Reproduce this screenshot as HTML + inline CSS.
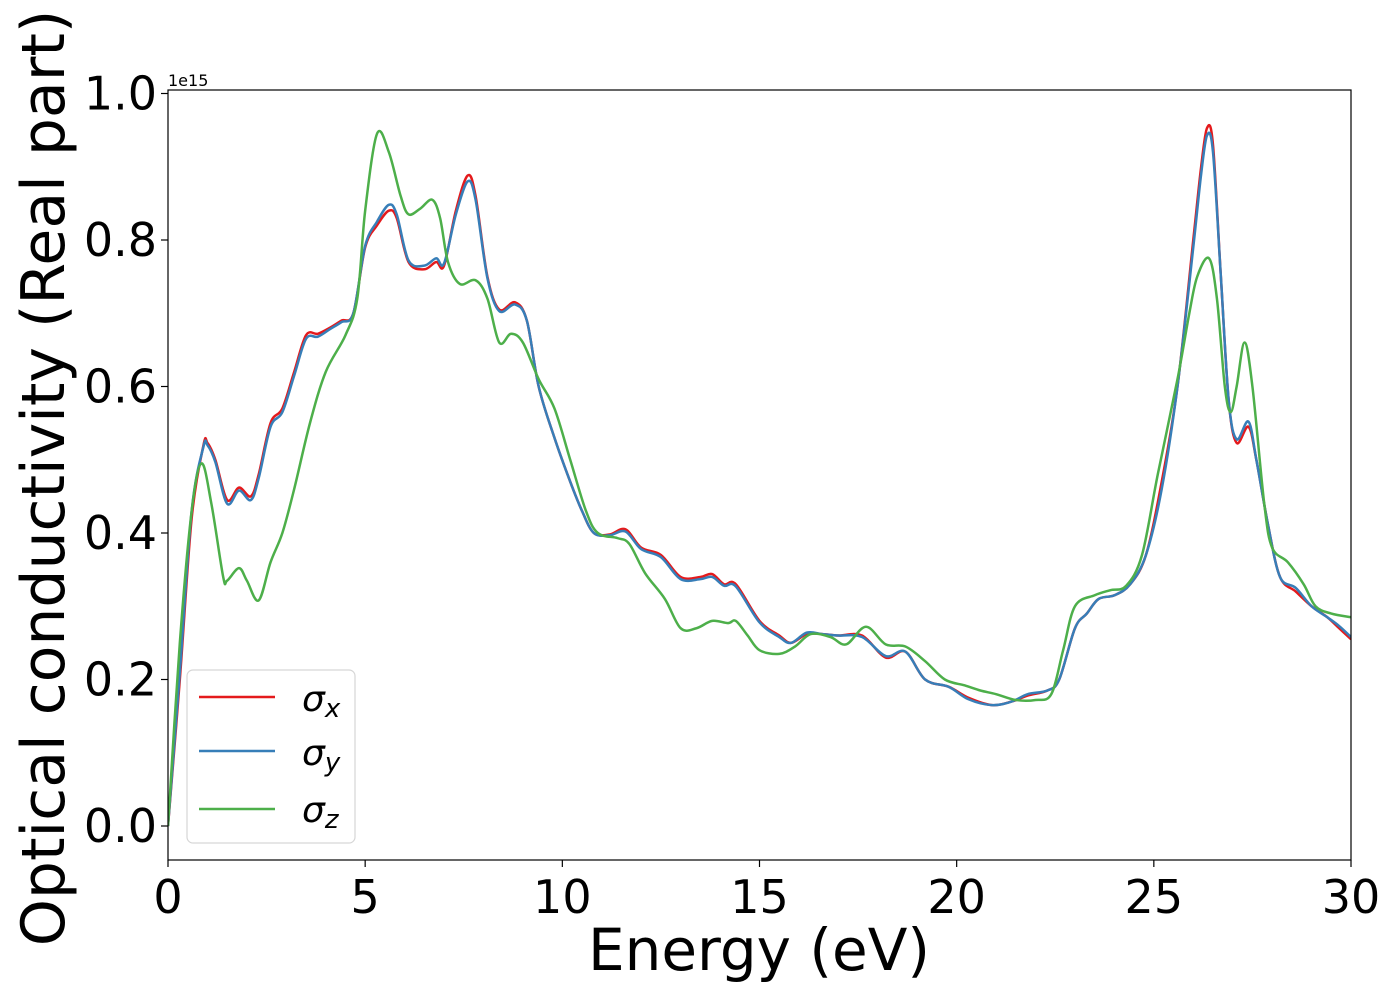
<!DOCTYPE html>
<html><head><meta charset="utf-8"><style>
body{margin:0;background:#fff;overflow:hidden;}
svg text{font-family:"DejaVu Sans","Liberation Sans",sans-serif;}
</style></head><body>
<svg id="chart" width="1400" height="1000" xmlns="http://www.w3.org/2000/svg" style="position:absolute;left:0;top:0">
<g id="plot"></g>
</svg>
<script>
const xs_x=[0,0.3,0.6,0.9,1.0,1.2,1.5,1.8,2.1,2.3,2.6,2.9,3.2,3.5,3.8,4.1,4.4,4.7,5.0,5.3,5.6,5.8,6.1,6.5,6.8,7.0,7.3,7.6,7.8,8.1,8.4,8.8,9.1,9.4,9.8,10.2,10.5,10.8,11.2,11.6,12.0,12.5,13.0,13.5,13.8,14.1,14.4,15.0,15.5,15.8,16.2,16.6,17.0,17.6,18.2,18.7,19.2,19.8,20.3,20.9,21.4,21.8,22.3,22.6,23.0,23.3,23.6,24.0,24.4,24.8,25.2,25.6,26.0,26.2,26.35,26.5,26.7,26.9,27.1,27.4,27.6,27.9,28.2,28.6,29.0,29.4,29.7,30];
const sigmaX=[0,0.2,0.42,0.52,0.523,0.5,0.445,0.462,0.45,0.48,0.55,0.57,0.62,0.67,0.672,0.68,0.69,0.70,0.79,0.82,0.84,0.83,0.77,0.76,0.77,0.765,0.84,0.888,0.86,0.75,0.705,0.715,0.69,0.6,0.53,0.47,0.43,0.40,0.398,0.405,0.38,0.37,0.34,0.34,0.344,0.33,0.33,0.28,0.26,0.25,0.262,0.262,0.26,0.26,0.23,0.238,0.2,0.19,0.175,0.165,0.17,0.178,0.185,0.20,0.27,0.29,0.31,0.315,0.33,0.37,0.47,0.6,0.8,0.9,0.953,0.93,0.75,0.58,0.523,0.545,0.5,0.41,0.34,0.32,0.3,0.285,0.27,0.255];
const sigmaY=[0,0.21,0.43,0.518,0.52,0.497,0.44,0.458,0.445,0.475,0.545,0.565,0.615,0.665,0.668,0.678,0.688,0.70,0.792,0.825,0.848,0.835,0.772,0.765,0.775,0.768,0.835,0.88,0.855,0.748,0.703,0.712,0.69,0.6,0.53,0.47,0.43,0.40,0.397,0.402,0.378,0.367,0.337,0.337,0.34,0.328,0.327,0.278,0.258,0.25,0.264,0.262,0.26,0.258,0.232,0.238,0.2,0.19,0.173,0.165,0.17,0.18,0.185,0.20,0.27,0.29,0.31,0.315,0.33,0.37,0.46,0.6,0.79,0.89,0.943,0.92,0.75,0.58,0.528,0.552,0.5,0.41,0.34,0.325,0.3,0.285,0.273,0.258];
const xs_z=[0,0.3,0.6,0.85,1.1,1.4,1.5,1.8,2.0,2.3,2.6,2.9,3.2,3.6,4.0,4.5,4.8,5.0,5.3,5.6,5.9,6.1,6.4,6.7,6.9,7.1,7.4,7.8,8.1,8.4,8.7,9.0,9.4,9.8,10.2,10.6,10.9,11.4,11.7,12.1,12.6,13.0,13.4,13.8,14.2,14.4,14.7,15.0,15.5,15.9,16.3,16.8,17.2,17.7,18.2,18.7,19.2,19.7,20.2,20.6,21.0,21.5,22.0,22.4,22.7,23.0,23.5,23.9,24.3,24.7,25.1,25.6,25.9,26.1,26.4,26.6,26.8,26.95,27.1,27.3,27.5,27.8,28.0,28.4,28.8,29.1,29.5,30];
const sigmaZ=[0,0.25,0.43,0.495,0.44,0.34,0.335,0.352,0.335,0.308,0.36,0.4,0.46,0.55,0.62,0.67,0.72,0.84,0.945,0.92,0.86,0.835,0.843,0.855,0.83,0.77,0.74,0.745,0.72,0.66,0.672,0.66,0.61,0.57,0.5,0.43,0.4,0.393,0.385,0.345,0.31,0.27,0.27,0.28,0.277,0.28,0.26,0.24,0.235,0.245,0.262,0.258,0.248,0.272,0.248,0.245,0.225,0.2,0.192,0.185,0.18,0.172,0.172,0.18,0.24,0.3,0.315,0.322,0.328,0.37,0.48,0.61,0.7,0.75,0.775,0.72,0.6,0.565,0.6,0.66,0.6,0.44,0.38,0.36,0.33,0.3,0.29,0.285];
const xTicks=[0,5,10,15,20,25,30];
const yTicks=[0.0,0.2,0.4,0.6,0.8,1.0];
const L=168,R=1351,T=90,B=860;
const X=v=>L+(v-0)/30*(R-L);
const Y=v=>826-v*732.5;
const NS="http://www.w3.org/2000/svg";
const svg=document.getElementById('chart');
function mk(tag,attrs,parent){const e=document.createElementNS(NS,tag);for(const k in attrs)e.setAttribute(k,attrs[k]);(parent||svg).appendChild(e);return e;}
function path(xs,ys){const p=xs.map((x,i)=>[X(x),Y(ys[i])]);let d='M'+p[0][0]+','+p[0][1];
for(let i=0;i<p.length-1;i++){const p0=p[i-1]||p[i],p1=p[i],p2=p[i+1],p3=p[i+2]||p2;
d+=' C'+(p1[0]+(p2[0]-p0[0])/6)+','+(p1[1]+(p2[1]-p0[1])/6)+' '+(p2[0]-(p3[0]-p1[0])/6)+','+(p2[1]-(p3[1]-p1[1])/6)+' '+p2[0]+','+p2[1];}return d;}
const plot=document.getElementById('plot');
const clip=mk('clipPath',{id:'cp'});mk('rect',{x:L,y:T,width:R-L,height:B-T},clip);
const series=[[xs_x,sigmaX,'#e41a1c','series-sigma-x'],[xs_x,sigmaY,'#377eb8','series-sigma-y'],[xs_z,sigmaZ,'#4daf4a','series-sigma-z']];
series.forEach(s=>{const e=mk('path',{d:path(s[0],s[1]),fill:'none',stroke:s[2],'stroke-width':2.5,'clip-path':'url(#cp)'},plot);

});
const fr=mk('rect',{x:L,y:T,width:R-L,height:B-T,fill:'none',stroke:'#000','stroke-width':1.2});


xTicks.forEach(t=>{mk('line',{x1:X(t),x2:X(t),y1:B,y2:B+7,stroke:'#000','stroke-width':1.2});
const tx=mk('text',{x:X(t),y:B+53,'font-size':46,'text-anchor':'middle'});tx.textContent=t;

});
yTicks.forEach(t=>{mk('line',{x1:L-7,x2:L,y1:Y(t),y2:Y(t),stroke:'#000','stroke-width':1.2});
const tx=mk('text',{x:L-11,y:Y(t)+16,'font-size':46,'text-anchor':'end'});tx.textContent=t.toFixed(1);

});
</script>
<svg width="1400" height="1000" xmlns="http://www.w3.org/2000/svg" style="position:absolute;left:0;top:0;pointer-events:none">
<text x="168" y="86" font-size="16" font-family="DejaVu Sans,Liberation Sans,sans-serif">1e15</text>
<text x="759" y="970" font-size="58" text-anchor="middle" font-family="DejaVu Sans,Liberation Sans,sans-serif">Energy (eV)</text>
<text transform="translate(64,478) rotate(-90)" font-size="60" text-anchor="middle" font-family="DejaVu Sans,Liberation Sans,sans-serif">Optical conductivity (Real part)</text>
<g>
<rect x="187" y="670" width="168" height="173" rx="6" fill="#fff" fill-opacity="0.85" stroke="#d6d6d6" stroke-width="1.2"/>
<line x1="199" x2="275" y1="697" y2="697" stroke="#e41a1c" stroke-width="2.5"/>
<line x1="199" x2="275" y1="751" y2="751" stroke="#377eb8" stroke-width="2.5"/>
<line x1="199" x2="275" y1="809" y2="809" stroke="#4daf4a" stroke-width="2.5"/>
<text x="302" y="711" font-size="36" font-style="italic" font-family="DejaVu Sans,sans-serif">σ<tspan font-size="26" dy="6">x</tspan></text>
<text x="302" y="765" font-size="36" font-style="italic" font-family="DejaVu Sans,sans-serif">σ<tspan font-size="26" dy="6">y</tspan></text>
<text x="302" y="822" font-size="36" font-style="italic" font-family="DejaVu Sans,sans-serif">σ<tspan font-size="26" dy="6">z</tspan></text>
</g>
</svg>
</body></html>
